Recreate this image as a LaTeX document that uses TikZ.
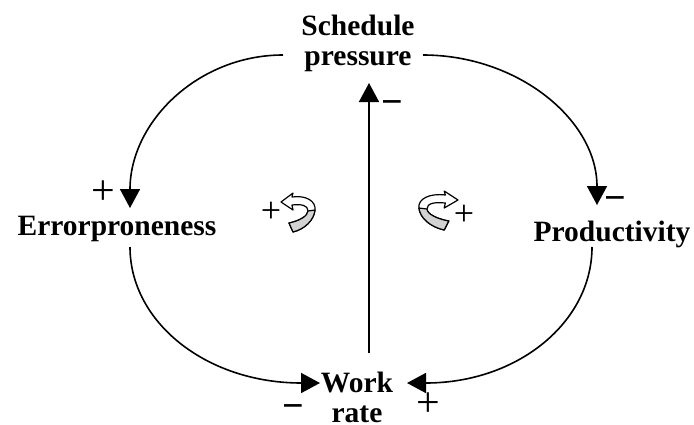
\documentclass[tikz,border=0pt]{standalone}
\usepackage{fontspec}
\setmainfont{Liberation Serif}
\usetikzlibrary{arrows.meta}
\begin{document}
\begin{tikzpicture}[x=1pt,y=-1pt,
  concept/.style={font=\fontsize{29.5}{30}\selectfont\bfseries, inner sep=0pt, align=center},
  link/.style={line width=1.6pt, -{Triangle[length=19pt,width=20pt]}},
  plussign/.style={font=\fontsize{42}{42}\selectfont, inner sep=0pt},
  smallplus/.style={font=\fontsize{36}{36}\selectfont, inner sep=0pt},
  minussign/.style={font=\fontsize{38}{38}\selectfont\bfseries, inner sep=0pt},
  loopicon/.pic={
    \filldraw[fill=white, draw=black, line width=1.2pt, line join=round]
      (0,0) -- (12,-9) -- (11,-5) .. controls (25,-7) and (35,-1) .. (34,8)
      .. controls (33,18) and (24,27) .. (12,30) -- (8,21)
      .. controls (18,19) and (27,14) .. (27,9)
      .. controls (27,3) and (20,2) .. (11,3) -- (12,8) -- cycle;
    \filldraw[fill=gray!35, draw=black, line width=1.2pt, line join=round]
      (8,21) .. controls (18,19) and (27,14) .. (27,9) -- (34,8)
      .. controls (33,18) and (24,27) .. (12,30) -- cycle;
  }
  ]
\useasboundingbox (0,0) rectangle (694,424);

\node[concept] (sched) at (358,43) {Schedule\\pressure};
\node[concept, anchor=base] (err) at (117,235) {Errorproneness};
\node[concept, anchor=base] (prod) at (612,241) {Productivity};
\node[concept] (work) at (357,397) {Work\\rate};

\draw[link] ([shift={(-75,12)}]sched.center) .. controls +(-85,0) and +(0,-86) .. ([shift={(13,-27)}]err.base);
\draw[link] ([shift={(65,12)}]sched.center) .. controls +(95,0) and +(0,-85) .. ([shift={(-15,-36)}]prod.base);
\draw[link] ([shift={(12,-44)}]work.center) -- ([shift={(11,40)}]sched.center);
\draw[link] ([shift={(13,12)}]err.base) .. controls +(0,75) and +(-114,0) .. ([shift={(-37,-14)}]work.center);
\draw[link] ([shift={(-20,6)}]prod.base) .. controls +(0,75) and +(111,0) .. ([shift={(50,-14)}]work.center);

\node[plussign] (p1) at (103,193) {+};
\node[minussign] (m1) at (392,108) {−};
\node[minussign] (m2) at (615,204) {−};
\node[minussign] (m3) at (293,412) {−};
\node[plussign] (p2) at (428,405) {+};
\node[smallplus] (p3) at (271,212) {+};
\node[smallplus] (p4) at (464,215) {+};

\pic at (281,202) {loopicon};
\pic[xscale=-1.15] at (458,200) {loopicon};
\end{tikzpicture}
\end{document}
